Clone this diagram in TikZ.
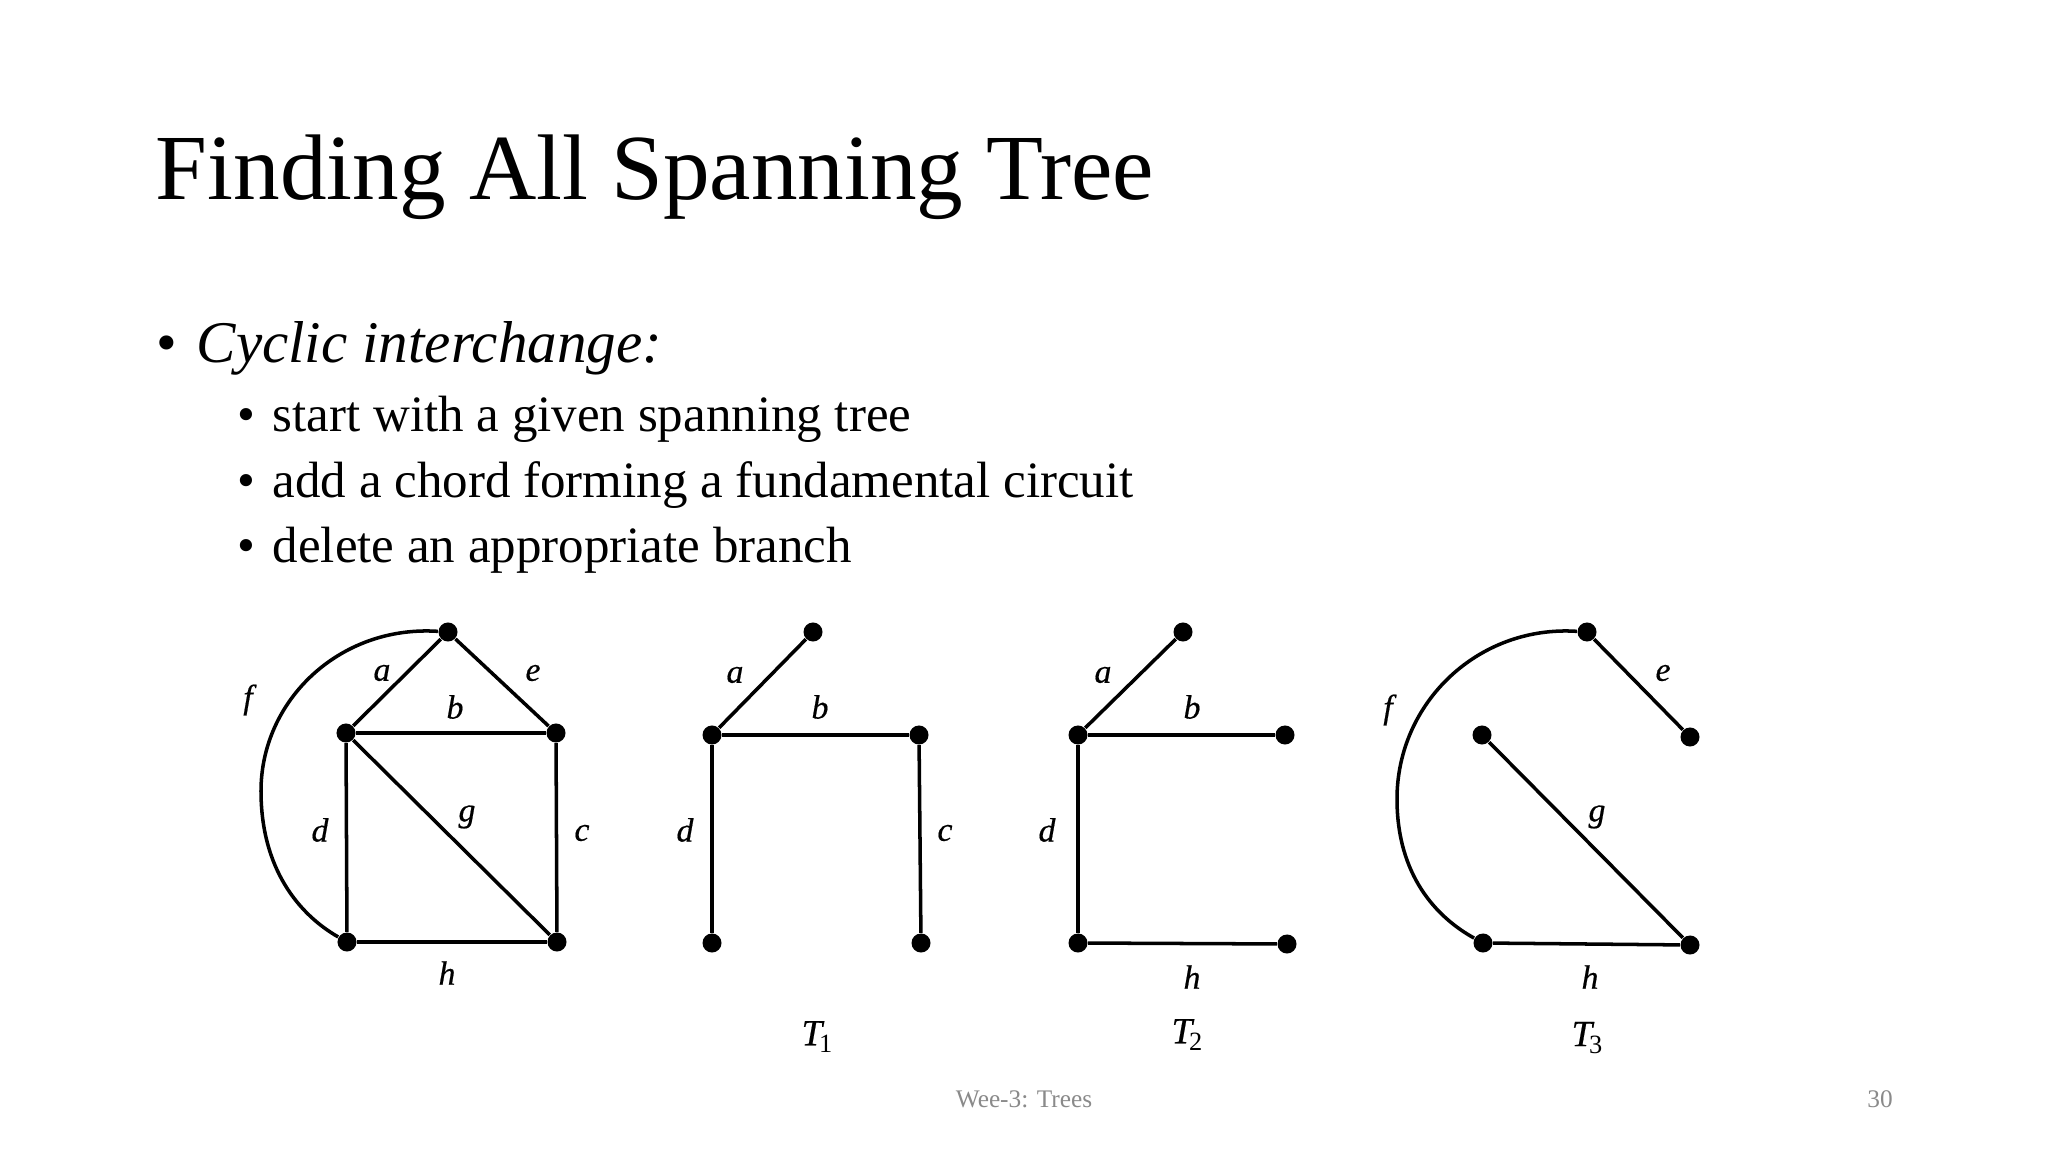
\documentclass[tikz,border=0pt]{standalone}
\usepackage{fontspec}
\setmainfont{Liberation Serif}
\newfontfamily\lblfont[ItalicFeatures={FakeBold=0.5}]{Liberation Serif}
\definecolor{footgray}{HTML}{8A8A8A}
\tikzset{
  vtx/.style={circle, fill=black, inner sep=0pt, minimum size=0.19cm},
  gline/.style={line width=1pt},
  lbl/.style={font=\fontsize{9.6}{11}\lblfont\itshape, inner sep=0pt},
  tlbl/.style={font=\fontsize{10.5}{12}\lblfont, inner sep=0pt},
  ttl/.style={anchor=base west, inner sep=0pt, font=\fontsize{26.5}{30}\selectfont},
  bul/.style={anchor=base west, inner sep=0pt, font=\fontsize{16.8}{19}\selectfont},
  sbul/.style={anchor=base west, inner sep=0pt, font=\fontsize{14.5}{17}\selectfont},
  foot/.style={anchor=base, inner sep=0pt, text=footgray, font=\fontsize{7.2}{8}\selectfont}
}
\begin{document}
\begin{tikzpicture}[x=0.01cm,y=-0.01cm]
\useasboundingbox (0,0) rectangle (2048,1152);
\fill[white] (0,0) rectangle (2048,1152);

% title and bullets
\node[ttl] (title) at (155,200) {Finding All Spanning Tree};
\node[bul] (b0) at (156,363) {\textbullet};
\node[bul] (t0) at (196,363) {\itshape Cyclic interchange:};
\node[sbul] (b1) at (237,432) {\textbullet};
\node[sbul] (t1) at (272,432) {start with a given spanning tree};
\node[sbul] (b2) at (237,498) {\textbullet};
\node[sbul] (t2) at (272,498) {add a chord forming a fundamental circuit};
\node[sbul] (b3) at (237,563) {\textbullet};
\node[sbul] (t3) at (272,563) {delete an appropriate branch};

% footer
\node[foot] (ft) at (1024,1107) {Wee-3: Trees};
\node[foot] (pg) at (1880,1107) {30};

% Graph G
\begin{scope}[shift={(346,733)}]
  \node[vtx] (gT) at (102,-101) {};
  \node[vtx] (gL) at (0,0) {};
  \node[vtx] (gR) at (210,0) {};
  \node[vtx] (gB) at (1,209) {};
  \node[vtx] (gC) at (211,209) {};
  \coordinate (gF) at (-85,58);
  \draw[gline] (gT) -- (gL);
  \draw[gline] (gT) -- (gR);
  \draw[gline] (gL) -- (gR);
  \draw[gline] (gL) -- (gB);
  \draw[gline] (gL) -- (gC);
  \draw[gline] (gR) -- (gC);
  \draw[gline] (gB) -- (gC);
  \draw[gline] (gT) .. controls (-6,-108) and (-85,-33) .. (gF)
                    .. controls (-85,137) and (-46,182) .. (gB);
  \node[lbl] (ga) at (36,-60) {a};
  \node[lbl] (ge) at (187,-60) {e};
  \node[lbl] (gb) at (109,-26) {b};
  \node[lbl] (gf) at (-98,-33) {f};
  \node[lbl] (gd) at (-26,97) {d};
  \node[lbl] (gg) at (121,84) {g};
  \node[lbl] (gc) at (236,100) {c};
  \node[lbl] (gh) at (101,240) {h};
\end{scope}

% T1
\begin{scope}[shift={(712,735)}]
  \node[vtx] (pT) at (101,-103) {};
  \node[vtx] (pL) at (0,0) {};
  \node[vtx] (pR) at (207,0) {};
  \node[vtx] (pB) at (0,208) {};
  \node[vtx] (pC) at (209,208) {};
  \draw[gline] (pT) -- (pL);
  \draw[gline] (pL) -- (pR);
  \draw[gline] (pL) -- (pB);
  \draw[gline] (pR) -- (pC);
  \node[lbl] (pa) at (23,-60) {a};
  \node[lbl] (pb) at (108,-28) {b};
  \node[lbl] (pd) at (-27,95) {d};
  \node[lbl] (pc) at (233,98) {c};
  \node[tlbl] (pn) at (105,302) {\itshape T\kern-0.08em\raisebox{-0.45ex}{\upshape\fontsize{7.5}{8}\selectfont 1}};
\end{scope}

% T2
\begin{scope}[shift={(1078,735)}]
  \node[vtx] (qT) at (105,-103) {};
  \node[vtx] (qL) at (0,0) {};
  \node[vtx] (qR) at (207,0) {};
  \node[vtx] (qB) at (0,208) {};
  \node[vtx] (qC) at (209,209) {};
  \draw[gline] (qT) -- (qL);
  \draw[gline] (qL) -- (qR);
  \draw[gline] (qL) -- (qB);
  \draw[gline] (qB) -- (qC);
  \node[lbl] (qa) at (25,-60) {a};
  \node[lbl] (qb) at (114,-28) {b};
  \node[lbl] (qd) at (-31,95) {d};
  \node[lbl] (qh) at (114,242) {h};
  \node[tlbl] (qn) at (109,300) {\itshape T\kern-0.08em\raisebox{-0.45ex}{\upshape\fontsize{7.5}{8}\selectfont 2}};
\end{scope}

% T3
\begin{scope}[shift={(1482,735)}]
  \node[vtx] (rT) at (105,-103) {};
  \node[vtx] (rL) at (0,0) {};
  \node[vtx] (rR) at (208,2) {};
  \node[vtx] (rB) at (1,208) {};
  \node[vtx] (rC) at (208,210) {};
  \coordinate (rF) at (-85,64);
  \draw[gline] (rT) -- (rR);
  \draw[gline] (rL) -- (rC);
  \draw[gline] (rB) -- (rC);
  \draw[gline] (rT) .. controls (-3,-110) and (-85,-33) .. (rF)
                    .. controls (-85,140) and (-46,182) .. (rB);
  \node[lbl] (re) at (181,-62) {e};
  \node[lbl] (rf) at (-94,-25) {f};
  \node[lbl] (rg) at (115,82) {g};
  \node[lbl] (rh) at (108,242) {h};
  \node[tlbl] (rn) at (105,303) {\itshape T\kern-0.08em\raisebox{-0.45ex}{\upshape\fontsize{7.5}{8}\selectfont 3}};
\end{scope}
\end{tikzpicture}
\end{document}
